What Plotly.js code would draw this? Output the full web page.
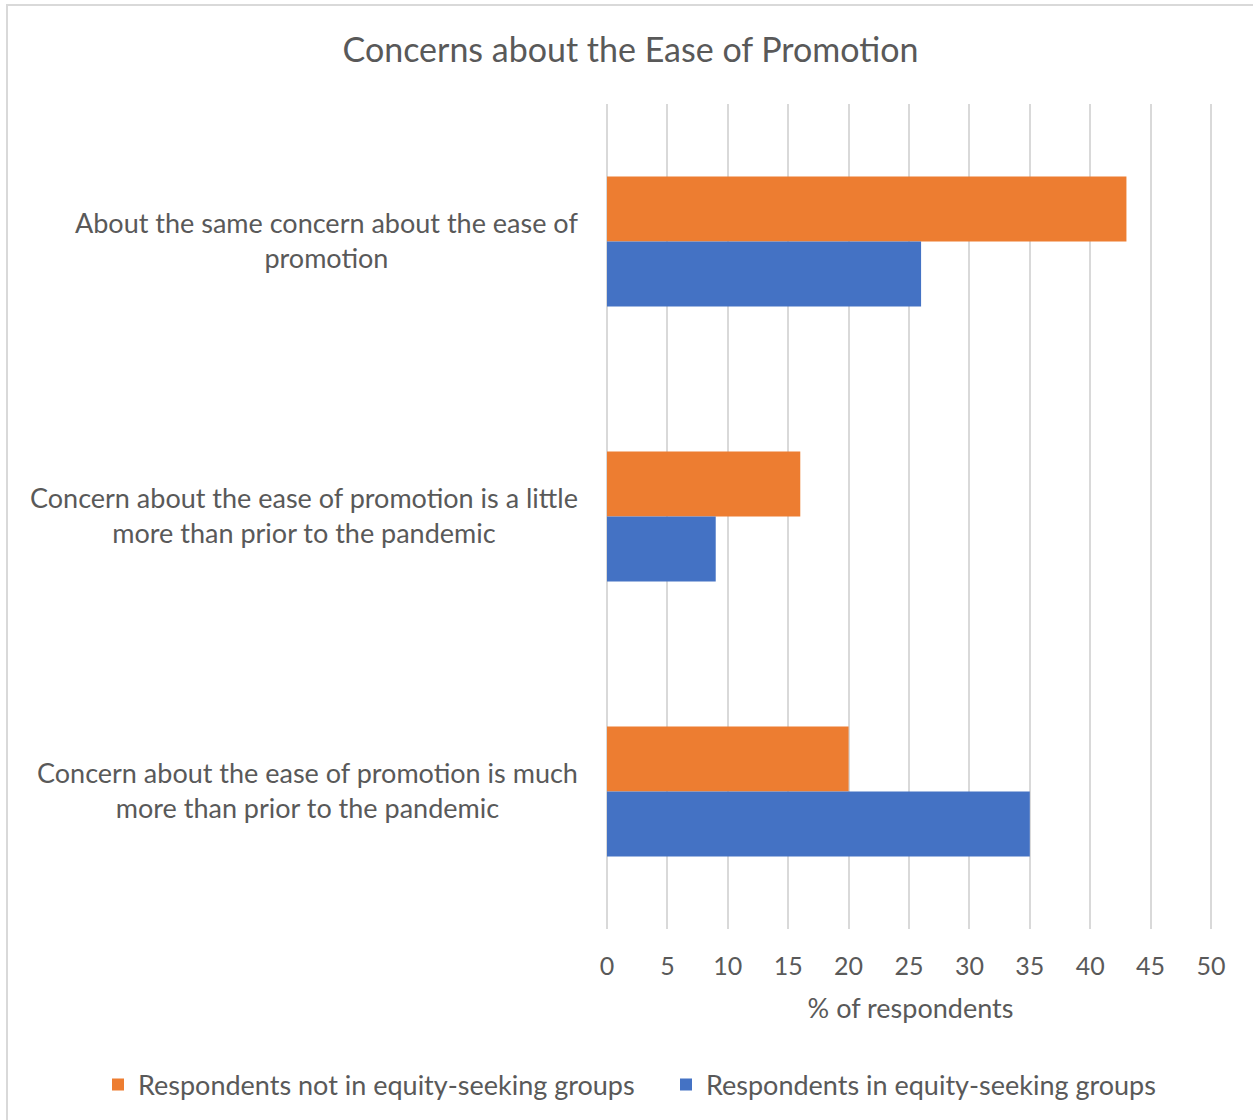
<!DOCTYPE html>
<html>
<head>
<meta charset="utf-8">
<script src="https://cdn.plot.ly/plotly-3.0.1.min.js"></script>
<style>
  html, body { margin: 0; padding: 0; background: #ffffff; overflow: hidden; }
  #chart { width: 1253px; height: 1120px; }
  #frame { position: absolute; left: 6px; top: 4px; width: 1300px; height: 1200px;
           border-left: 2px solid #d9d9d9; border-top: 2px solid #d9d9d9; pointer-events: none; }
</style>
</head>
<body>
<div id="chart"></div>
<div id="frame"></div>
<script>
const categories = [
  "About the same concern about the ease of<br>promotion",
  "Concern about the ease of promotion is a little<br>more than prior to the pandemic",
  "Concern about the ease of promotion is much<br>more than prior to the pandemic"
];
const seriesNames = [
  "Respondents not in equity-seeking groups",
  "Respondents in equity-seeking groups"
];
const notEquitySeeking = [43, 16, 20];
const equitySeeking = [26, 9, 35];
const xTicks = [0, 5, 10, 15, 20, 25, 30, 35, 40, 45, 50];

const FONT = "Lato, 'Open Sans', sans-serif";
const TEXT = "#595959";

// plot area geometry (pixels)
const PL = 607, PR = 1214, PT = 104, PB = 930;
const PX_PER_UNIT = (1211 - 607) / 50;
const xMax = (PR - PL) / PX_PER_UNIT;
const PW = PR - PL, PH = PB - PT;

const traces = [
  { type: "bar", orientation: "h", name: seriesNames[0], y: categories, x: notEquitySeeking,
    marker: { color: "#ED7D31" }, hoverinfo: "x+name" },
  { type: "bar", orientation: "h", name: seriesNames[1], y: categories, x: equitySeeking,
    marker: { color: "#4472C4" }, hoverinfo: "x+name" }
];

const annotations = categories.map(c => ({
  xref: "paper", yref: "y", x: (580 - PL) / PW, y: c, text: c,
  xanchor: "right", yanchor: "middle", align: "center", showarrow: false, yshift: 2,
  font: { family: FONT, size: 27, color: TEXT }
}));

const layout = {
  width: 1253, height: 1120,
  margin: { l: PL, r: 1253 - PR, t: PT, b: 1120 - PB },
  paper_bgcolor: "#ffffff", plot_bgcolor: "#ffffff",
  font: { family: FONT, size: 24, color: TEXT },
  title: { text: "Concerns about the Ease of Promotion", xref: "container", x: 630.5 / 1253,
           yref: "container", y: 1 - 50 / 1120, yanchor: "middle",
           font: { family: FONT, size: 34, color: TEXT } },
  barmode: "group", bargap: 0.527, bargroupgap: 0,
  xaxis: {
    range: [0, xMax], tickvals: xTicks, ticktext: xTicks.map(String),
    showgrid: true, gridcolor: "#d9d9d9", gridwidth: 2,
    zeroline: true, zerolinecolor: "#d9d9d9", zerolinewidth: 2,
    showline: false, ticks: "", ticklabelstandoff: 20,
    tickfont: { family: FONT, size: 25, color: TEXT },
    title: { text: "% of respondents", standoff: 20, font: { family: FONT, size: 27, color: TEXT } }
  },
  yaxis: {
    type: "category", autorange: "reversed", showticklabels: false,
    showgrid: false, zeroline: false, showline: false, ticks: ""
  },
  annotations: annotations,
  showlegend: true,
  legend: {
    orientation: "h", xref: "paper", yref: "paper",
    x: (98 - PL) / PW, xanchor: "left", y: (PB - 1085) / PH, yanchor: "middle",
    font: { family: FONT, size: 27, color: TEXT }, traceorder: "normal",
    itemwidth: 30, entrywidth: 523, entrywidthmode: "pixels"
  }
};

Plotly.newPlot("chart", traces, layout, { displayModeBar: false, staticPlot: true });
</script>
</body>
</html>
